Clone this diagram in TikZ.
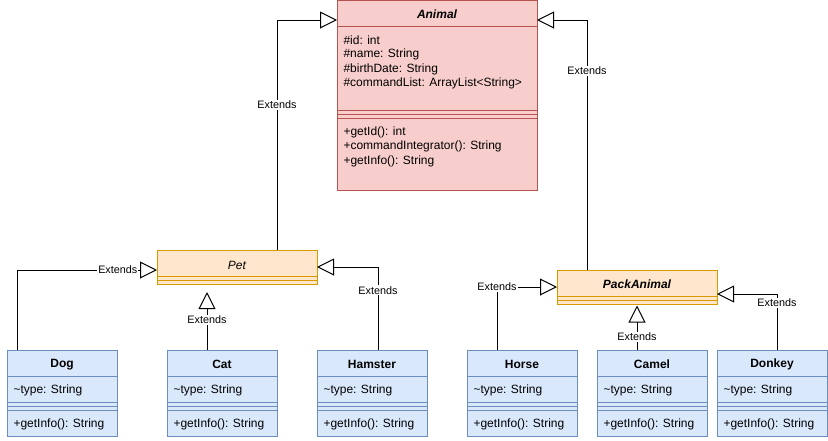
\documentclass[tikz,border=0pt]{standalone}
\usepackage{fontspec}
\setmainfont{Liberation Sans}
\usetikzlibrary{arrows.meta}
\definecolor{redfill}{HTML}{F8CECC}
\definecolor{redline}{HTML}{B85450}
\definecolor{orfill}{HTML}{FFE6CC}
\definecolor{orline}{HTML}{D79B00}
\definecolor{bluefill}{HTML}{DAE8FC}
\definecolor{blueline}{HTML}{6C8EBF}
\newcommand\childclass[3]{%
  \node[cbox] (#1) at (#2,350) {};
  \draw[blueline] (#1.west |- 0,376) -- (#1.east |- 0,376);
  \draw[blueline] (#1.west |- 0,402) -- (#1.east |- 0,402);
  \draw[blueline] (#1.west |- 0,406) -- (#1.east |- 0,406);
  \draw[blueline] (#1.west |- 0,410) -- (#1.east |- 0,410);
  \node[ttl] (#1t) at (#1.north |- 0,364.5) {\bfseries #3};
  \node[txt, xshift=6pt] (#1a) at (#1.west |- 0,390.5) {\textasciitilde type: String};
  \node[txt, xshift=6pt] (#1m) at (#1.west |- 0,424.5) {+getInfo(): String};
}
\begin{document}
\begin{tikzpicture}[x=1pt,y=-1pt,line width=1pt,
  box/.style={draw, anchor=north west, inner sep=0pt, outer sep=0pt},
  abox/.style={box, fill=redfill, draw=redline, minimum width=200pt, minimum height=190pt},
  pbox/.style={box, fill=orfill, draw=orline, minimum width=160pt, minimum height=34pt},
  cbox/.style={box, fill=bluefill, draw=blueline, minimum width=110pt, minimum height=86pt},
  txt/.style={anchor=west, inner sep=0pt, font=\fontsize{12}{14}\selectfont},
  ttl/.style={inner sep=0pt, font=\fontsize{12}{14}\selectfont},
  ext/.style={draw=black, -{Triangle[length=17pt,width=17pt,fill=white]}},
  lbl/.style={fill=white, inner sep=1pt, font=\fontsize{10.8}{12}\selectfont},
]
\fill[white] (0,0) rectangle (828,440);
\useasboundingbox (0,0) rectangle (828,440);

% Animal
\node[abox] (animal) at (337,0.5) {};
\draw[redline] (animal.west |- 0,26) -- (animal.east |- 0,26);
\draw[redline] (animal.west |- 0,110) -- (animal.east |- 0,110);
\draw[redline] (animal.west |- 0,114) -- (animal.east |- 0,114);
\draw[redline] (animal.west |- 0,118) -- (animal.east |- 0,118);
\node[ttl] (animalt) at (animal.north |- 0,14.5) {\bfseries\itshape Animal};
\node[txt, xshift=6pt] (a1) at (animal.west |- 0,40.5) {\#id: int};
\node[txt, xshift=6pt] (a2) at (animal.west |- 0,54.5) {\#name: String};
\node[txt, xshift=6pt] (a3) at (animal.west |- 0,69) {\#birthDate: String};
\node[txt, xshift=6pt] (a4) at (animal.west |- 0,83.5) {\#commandList: ArrayList\textless String\textgreater};
\node[txt, xshift=6pt] (m1) at (animal.west |- 0,132.5) {+getId(): int};
\node[txt, xshift=6pt] (m2) at (animal.west |- 0,146.5) {+commandIntegrator(): String};
\node[txt, xshift=6pt] (m3) at (animal.west |- 0,161) {+getInfo(): String};

% Pet
\node[pbox] (pet) at (157,250) {};
\draw[orline] (pet.west |- 0,276) -- (pet.east |- 0,276);
\draw[orline] (pet.west |- 0,280) -- (pet.east |- 0,280);
\node[ttl] (pett) at (pet.north |- 0,265) {\itshape Pet};

% PackAnimal
\node[pbox] (pack) at (557,270) {};
\draw[orline] (pack.west |- 0,296) -- (pack.east |- 0,296);
\draw[orline] (pack.west |- 0,300) -- (pack.east |- 0,300);
\node[ttl] (packt) at (pack.north |- 0,284.5) {\bfseries\itshape PackAnimal};

% children
\childclass{dog}{7}{Dog}
\childclass{cat}{167}{Cat}
\childclass{hamster}{317}{Hamster}
\childclass{horse}{467}{Horse}
\childclass{camel}{597}{Camel}
\childclass{donkey}{717}{Donkey}

\coordinate (catend) at (207,292);
\coordinate (camelend) at (637,305.5);

% connectors
\draw[ext] (pet.north -| 277,0) |- node[lbl, pos=0.315] (l1) {Extends} (animal.west |- 0,20);
\draw[ext] (pack.north -| 587,0) |- node[lbl, pos=0.398] (l2) {Extends} (animal.east |- 0,20);
\draw[ext] (dog.north -| 17,0) |- node[lbl, pos=0.86] (l3) {Extends} (pet.west |- 0,270);
\draw[ext] (cat.north -| 207,0) -- node[lbl, pos=0.52] (l4) {Extends} (catend);
\draw[ext] (hamster.north -| 378,0) |- node[lbl, pos=0.36] (l5) {Extends} (pet.east |- 0,267);
\draw[ext] (horse.north -| 497,0) |- node[lbl, pos=0.5] (l6) {Extends} (pack.west |- 0,287);
\draw[ext] (camel.north -| 637,0) -- node[lbl, pos=0.29] (l7) {Extends} (camelend);
\draw[ext] (donkey.north -| 777,0) |- node[lbl, pos=0.42] (l8) {Extends} (pack.east |- 0,294);
\end{tikzpicture}
\end{document}
